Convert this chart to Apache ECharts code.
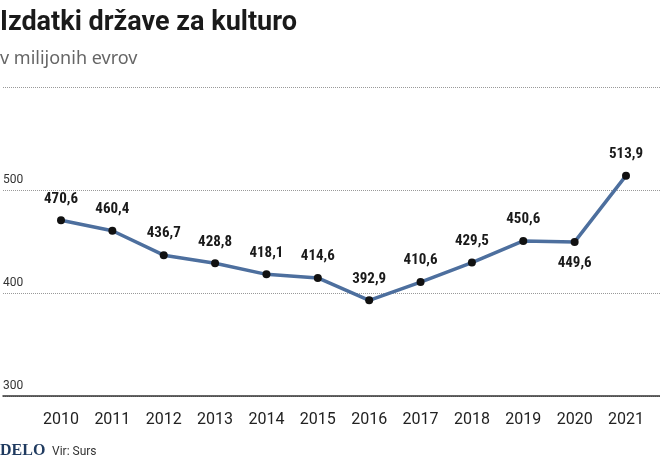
<!DOCTYPE html>
<html><head><meta charset="utf-8">
<script src="https://cdn.jsdelivr.net/npm/echarts@6/dist/echarts.min.js"></script>
<style>body{margin:0}#c{width:660px;height:472px}</style></head>
<body><div id="c"></div>
<script>
const years=['2010','2011','2012','2013','2014','2015','2016','2017','2018','2019','2020','2021'];
const values=[470.6,460.4,436.7,428.8,418.1,414.6,392.9,410.6,429.5,450.6,449.6,513.9];
const yTicks=[300,400,500];
const chart=echarts.init(document.getElementById('c'));
const fmt=v=>v.toFixed(1).replace('.',',');
chart.setOption({
 animation:false,
 title:[{text:'Izdatki države za kulturo',left:0,top:10,padding:0,textStyle:{fontFamily:'Roboto',fontWeight:'bold',fontSize:27,color:'#1a1a1a'}},
  {text:'v milijonih evrov',left:0,top:50,padding:0,textStyle:{fontFamily:'Noto Sans',fontWeight:'normal',fontSize:18,color:'#666'}}],
 graphic:[{type:'text',left:0,top:443,style:{text:'DELO',font:'bold 16px "Liberation Serif"',fill:'#1f3a5f'}},
  {type:'text',left:52,top:446,style:{text:'Vir: Surs',font:'12px "Roboto"',fill:'#333'}}],
 grid:[{left:0,right:0,top:87,bottom:76},{left:61,right:34,top:87,bottom:76}],
 xAxis:[{gridIndex:0,type:'category',data:[''],axisLine:{lineStyle:{color:'#333',width:1.5}},axisTick:{show:false},axisLabel:{show:false}},
  {gridIndex:1,type:'category',data:years,boundaryGap:false,axisLine:{show:false},axisTick:{show:false},
   axisLabel:{margin:16,fontFamily:'Roboto',fontSize:16,color:'#222'}}],
 yAxis:[{gridIndex:0,type:'value',min:300,max:600,interval:100,axisLine:{show:false},axisTick:{show:false},
   splitLine:{lineStyle:{type:'dotted',color:'#999',width:1}},
   axisLabel:{align:'left',margin:0,verticalAlign:'bottom',padding:[0,0,4,0],fontFamily:'Roboto',fontSize:12,color:'#333',
    formatter:v=>yTicks.includes(v)?String(v):''}},
  {gridIndex:1,type:'value',min:300,max:600,show:false}],
 series:[{type:'line',xAxisIndex:1,yAxisIndex:1,symbol:'circle',symbolSize:8,
  lineStyle:{color:'#4d6f9e',width:3.5},itemStyle:{color:'#111'},
  label:{show:true,position:'top',distance:10,formatter:p=>fmt(p.value),fontFamily:'Roboto Condensed, Roboto',fontWeight:'bold',fontSize:15,color:'#1a1a1a'},
  data:values.map((v,i)=>i===10?{value:v,label:{position:'bottom',distance:10}}:v)}]
});
</script></body></html>
